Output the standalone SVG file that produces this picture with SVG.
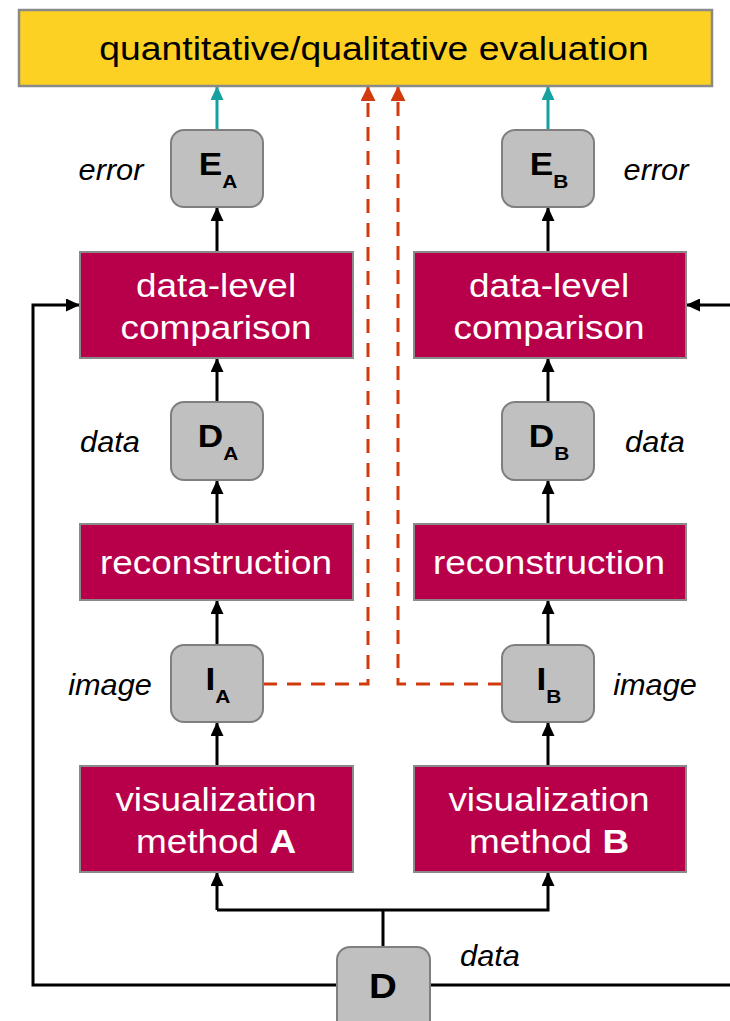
<svg xmlns="http://www.w3.org/2000/svg" width="730" height="1021" viewBox="0 0 730 1021">
  <defs>
    <style>
      .eval { fill: #FDD123; stroke: #8A8A8A; stroke-width: 2.5; }
      .proc { fill: #B8004A; stroke: #8A8A8A; stroke-width: 2; }
      .var { fill: #C0C0C0; stroke: #7F7F7F; stroke-width: 2; }
      text { font-family: "Liberation Sans", Arial, sans-serif; text-anchor: middle; }
      .ptext { font-size: 33px; fill: #FFFFFF; }
      .etext { font-size: 33px; fill: #000000; }
      .vtext { font-size: 32px; font-weight: bold; fill: #000000; }
      .big { font-size: 35px; }
      .sub { font-size: 19px; }
      .lbl { font-size: 29px; font-style: italic; fill: #000000; }
      .flow { fill: none; stroke: #000000; stroke-width: 3; }
      .teal { fill: none; stroke: #17A0A0; stroke-width: 3; }
      .dash { fill: none; stroke: #D23A0C; stroke-width: 3; stroke-dasharray: 14 10; }
    </style>
    <marker id="ahBlack" markerWidth="14" markerHeight="13" refX="13" refY="6.5" orient="auto" markerUnits="userSpaceOnUse" viewBox="0 0 14 13">
      <path d="M0,0 L14,6.5 L0,13 z" fill="#000000"/>
    </marker>
    <marker id="ahTeal" markerWidth="14" markerHeight="13" refX="13" refY="6.5" orient="auto" markerUnits="userSpaceOnUse" viewBox="0 0 14 13">
      <path d="M0,0 L14,6.5 L0,13 z" fill="#17A0A0"/>
    </marker>
    <marker id="ahRed" markerWidth="15" markerHeight="15" refX="14" refY="7.5" orient="auto" markerUnits="userSpaceOnUse" viewBox="0 0 15 15">
      <path d="M0,0 L15,7.5 L0,15 z" fill="#D23A0C"/>
    </marker>
  </defs>

  <!-- connectors -->
  <g id="connectors">
    <!-- error to evaluation -->
    <line class="teal" x1="217" y1="130" x2="217" y2="87" marker-end="url(#ahTeal)"/>
    <line class="teal" x1="548" y1="130" x2="548" y2="87" marker-end="url(#ahTeal)"/>
    <!-- images to evaluation (dashed) -->
    <polyline class="dash" points="263,684 368,684 368,87" marker-end="url(#ahRed)"/>
    <polyline class="dash" points="502,684 398,684 398,87" marker-end="url(#ahRed)"/>
    <!-- column A -->
    <line class="flow" x1="217" y1="252" x2="217" y2="208" marker-end="url(#ahBlack)"/>
    <line class="flow" x1="217" y1="402" x2="217" y2="359" marker-end="url(#ahBlack)"/>
    <line class="flow" x1="217" y1="524" x2="217" y2="481" marker-end="url(#ahBlack)"/>
    <line class="flow" x1="217" y1="645" x2="217" y2="601" marker-end="url(#ahBlack)"/>
    <line class="flow" x1="217" y1="766" x2="217" y2="723" marker-end="url(#ahBlack)"/>
    <!-- column B -->
    <line class="flow" x1="548" y1="252" x2="548" y2="208" marker-end="url(#ahBlack)"/>
    <line class="flow" x1="548" y1="402" x2="548" y2="359" marker-end="url(#ahBlack)"/>
    <line class="flow" x1="548" y1="524" x2="548" y2="481" marker-end="url(#ahBlack)"/>
    <line class="flow" x1="548" y1="645" x2="548" y2="601" marker-end="url(#ahBlack)"/>
    <line class="flow" x1="548" y1="766" x2="548" y2="723" marker-end="url(#ahBlack)"/>
    <!-- D to both visualization methods -->
    <line class="flow" x1="383" y1="947" x2="383" y2="910"/>
    <polyline class="flow" points="217,910 548,910 548,873" marker-end="url(#ahBlack)"/>
    <line class="flow" x1="217" y1="910" x2="217" y2="873" marker-end="url(#ahBlack)"/>
    <!-- D to data-level comparison -->
    <polyline class="flow" points="337,985 33,985 33,305 79,305" marker-end="url(#ahBlack)"/>
    <line class="flow" x1="430" y1="985" x2="730" y2="985"/>
    <line class="flow" x1="730" y1="305" x2="687" y2="305" marker-end="url(#ahBlack)"/>
  </g>

  <!-- evaluation -->
  <g id="evaluation">
    <rect class="eval" x="19" y="10" width="693" height="76"/>
    <text class="etext" transform="matrix(1.13 0 0 1 374 60)">quantitative/qualitative evaluation</text>
  </g>

  <!-- error nodes -->
  <g id="errorA">
    <rect class="var" x="171" y="130" width="92" height="77" rx="13"/>
    <text class="vtext" transform="matrix(1.1 0 0 1 218 175)">E<tspan class="sub" dy="13">A</tspan></text>
  </g>
  <text class="lbl" transform="matrix(1.06 0 0 1 111 180)">error</text>
  <g id="errorB">
    <rect class="var" x="502" y="130" width="92" height="77" rx="13"/>
    <text class="vtext" transform="matrix(1.1 0 0 1 549 175)">E<tspan class="sub" dy="13">B</tspan></text>
  </g>
  <text class="lbl" transform="matrix(1.06 0 0 1 656 180)">error</text>

  <!-- comparison -->
  <g id="compareA">
    <rect class="proc" x="80" y="252" width="273" height="106"/>
    <text class="ptext" transform="matrix(1.12 0 0 1 216 297)">data-level</text>
    <text class="ptext" transform="matrix(1.12 0 0 1 216 339)">comparison</text>
  </g>
  <g id="compareB">
    <rect class="proc" x="414" y="252" width="272" height="106"/>
    <text class="ptext" transform="matrix(1.12 0 0 1 549 297)">data-level</text>
    <text class="ptext" transform="matrix(1.12 0 0 1 549 339)">comparison</text>
  </g>

  <!-- reconstructed data nodes -->
  <g id="dataA">
    <rect class="var" x="171" y="402" width="92" height="78" rx="13"/>
    <text class="vtext" transform="matrix(1.1 0 0 1 218 447)">D<tspan class="sub" dy="13">A</tspan></text>
  </g>
  <text class="lbl" transform="matrix(1.06 0 0 1 110 452)">data</text>
  <g id="dataB">
    <rect class="var" x="502" y="402" width="92" height="78" rx="13"/>
    <text class="vtext" transform="matrix(1.1 0 0 1 549 447)">D<tspan class="sub" dy="13">B</tspan></text>
  </g>
  <text class="lbl" transform="matrix(1.06 0 0 1 655 452)">data</text>

  <!-- reconstruction -->
  <g id="reconA">
    <rect class="proc" x="80" y="524" width="273" height="76"/>
    <text class="ptext" transform="matrix(1.12 0 0 1 216 574)">reconstruction</text>
  </g>
  <g id="reconB">
    <rect class="proc" x="414" y="524" width="272" height="76"/>
    <text class="ptext" transform="matrix(1.12 0 0 1 549 574)">reconstruction</text>
  </g>

  <!-- image nodes -->
  <g id="imageA">
    <rect class="var" x="171" y="645" width="92" height="77" rx="13"/>
    <text class="vtext" transform="matrix(1.1 0 0 1 218 690)">I<tspan class="sub" dy="13">A</tspan></text>
  </g>
  <text class="lbl" transform="matrix(1.06 0 0 1 110 695)">image</text>
  <g id="imageB">
    <rect class="var" x="502" y="645" width="92" height="77" rx="13"/>
    <text class="vtext" transform="matrix(1.1 0 0 1 549 690)">I<tspan class="sub" dy="13">B</tspan></text>
  </g>
  <text class="lbl" transform="matrix(1.06 0 0 1 655 695)">image</text>

  <!-- visualization methods -->
  <g id="visA">
    <rect class="proc" x="80" y="766" width="273" height="106"/>
    <text class="ptext" transform="matrix(1.12 0 0 1 216 811)">visualization</text>
    <text class="ptext" transform="matrix(1.12 0 0 1 216 853)">method <tspan font-weight="bold">A</tspan></text>
  </g>
  <g id="visB">
    <rect class="proc" x="414" y="766" width="272" height="106"/>
    <text class="ptext" transform="matrix(1.12 0 0 1 549 811)">visualization</text>
    <text class="ptext" transform="matrix(1.12 0 0 1 549 853)">method <tspan font-weight="bold">B</tspan></text>
  </g>

  <!-- source data -->
  <g id="sourceD">
    <rect class="var" x="337" y="947" width="93" height="90" rx="13"/>
    <text class="vtext big" transform="matrix(1.1 0 0 1 383 998)">D</text>
  </g>
  <text class="lbl" transform="matrix(1.06 0 0 1 490 966)">data</text>
</svg>
